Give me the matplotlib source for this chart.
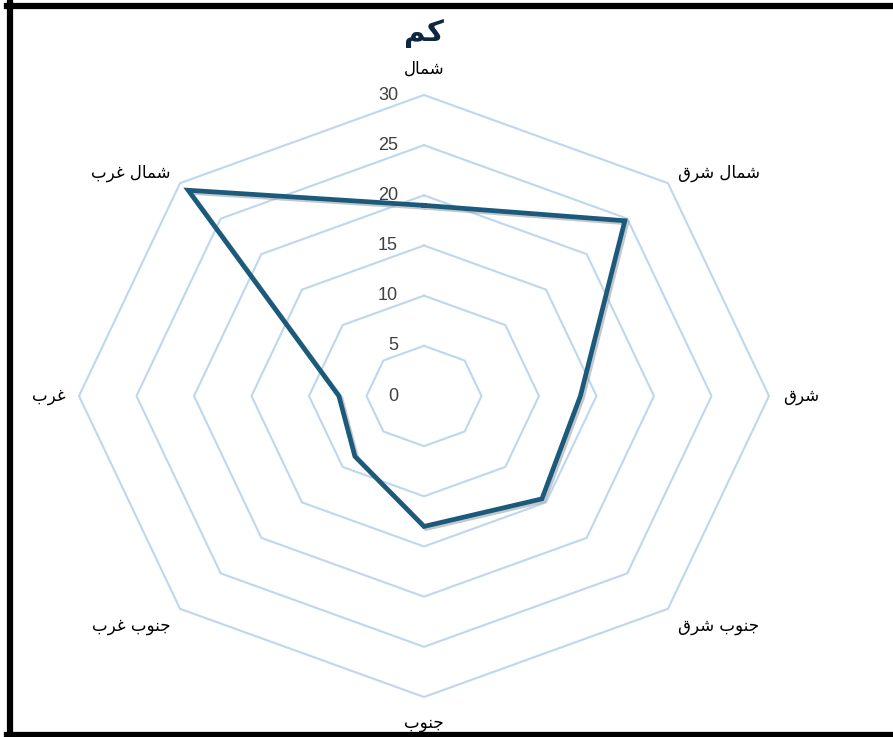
import numpy as np
import matplotlib
matplotlib.use("Agg")
import matplotlib.pyplot as plt
import matplotlib.patheffects as pe
from matplotlib.lines import Line2D

# Arabic labels written in visual order with presentation forms
# (matplotlib does no Arabic shaping on its own)
SHAMAL = "\uFEDD\uFE8E\uFEE4\uFEB7"      # شمال
SHARQ = "\uFED5\uFEAE\uFEB7"             # شرق
GHARB = "\uFE8F\uFEAE\uFECF"             # غرب
JANUB = "\uFE8F\uFEEE\uFEE8\uFE9F"       # جنوب
TITLE = "\uFEE2\uFEDB"                   # كم

categories = [SHAMAL,
              SHARQ + " " + SHAMAL,
              SHARQ,
              SHARQ + " " + JANUB,
              JANUB,
              GHARB + " " + JANUB,
              GHARB,
              GHARB + " " + SHAMAL]
values = [19, 24.7, 13.6, 14.5, 13, 8.5, 7.4, 29]
ticks = [0, 5, 10, 15, 20, 25, 30]

plt.rcParams['font.family'] = ['DejaVu Sans']

W, H = 893, 737
fig = plt.figure(figsize=(W / 100, H / 100), dpi=100)
ax = fig.add_axes([0, 0, 1, 1])

# pixel geometry of the (horizontally stretched) radar
cx, cy = 424, 396
sx, sy = 345 / 30, 301 / 30
ax.set_xlim(-cx / sx, (W - cx) / sx)
ax.set_ylim(-(H - cy) / sy, cy / sy)
ax.axis('off')

n = len(categories)
theta = np.arange(n) * 2 * np.pi / n
ux, uy = np.sin(theta), np.cos(theta)

# grid octagons
for t in ticks[1:]:
    ax.plot(np.append(ux, ux[0]) * t, np.append(uy, uy[0]) * t,
            color='#BDD7EE', lw=1.5, zorder=1)

# tick labels left of the north axis
for t in ticks:
    ax.text(-26 / sx, t, str(t), ha='right', va='center',
            fontsize=13, color='#404040', family='Liberation Sans')

# series
v = np.array(values)
xs = np.append(ux * v, ux[0] * v[0])
ys = np.append(uy * v, uy[0] * v[0])
ax.plot(xs, ys, color='#1B5A7A', lw=3.4, solid_joinstyle='miter', zorder=3,
        path_effects=[pe.SimpleLineShadow(offset=(1.5, -1.5), shadow_color='#9aa4aa', alpha=0.6),
                      pe.Normal()])

# category labels
r_lab = 31.2
for i, lab in enumerate(categories):
    x, y = ux[i] * r_lab, uy[i] * r_lab
    if abs(ux[i]) < 1e-6:
        ha = 'center'
        y = uy[i] * 32.6
    elif ux[i] > 0:
        ha = 'left'
    else:
        ha = 'right'
    if abs(ux[i]) > 1e-6 and abs(uy[i]) > 1e-6:
        y = uy[i] * 31.5 * (1 if uy[i] > 0 else 1.03)
    ax.text(x, y, lab, ha=ha, va='center', fontsize=12, color='black')

ax.text(0, (cy - 33) / sy, TITLE, ha='center', va='center',
        fontsize=21, fontweight='bold', color='#0E2841')

# black frame on left, top and bottom
fig.add_artist(Line2D([10 / W, 10 / W], [0, 1 - 3 / H], color='black', lw=4.5))
fig.add_artist(Line2D([7 / W, 1], [1 - 5.5 / H, 1 - 5.5 / H], color='black', lw=4.5))
fig.add_artist(Line2D([7 / W, 1], [2 / H, 2 / H], color='black', lw=4.5))

fig.savefig('out.png', dpi=100, facecolor='white')
